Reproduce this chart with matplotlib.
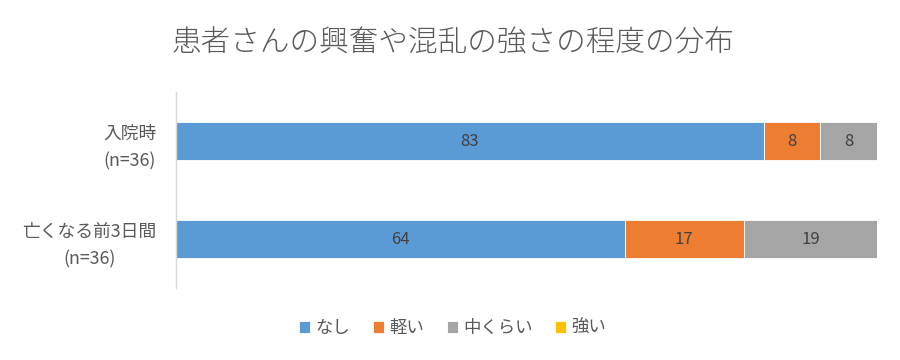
import numpy as np
import matplotlib
matplotlib.use('Agg')
import matplotlib.pyplot as plt

plt.rcParams['font.family'] = ['Noto Sans CJK JP', 'DejaVu Sans']

title = '患者さんの興奮や混乱の強さの程度の分布'
categories = ['入院時\n(n=36)', '亡くなる前3日間\n(n=36)']
series = ['なし', '軽い', '中くらい', '強い']
values = np.array([
    [83, 8, 8, 0],
    [64, 17, 19, 0],
])
colors = ['#5B9BD5', '#ED7D31', '#A5A5A5', '#FFC000']

# 100% stacked, like the Excel chart
shares = values / values.sum(axis=1, keepdims=True)

fig = plt.figure(figsize=(9, 3.6), dpi=100)
ax = fig.add_axes([0.1956, 0.2, 0.7788, 0.544])

y = np.arange(len(categories))
left = np.zeros(len(categories))
for j, name in enumerate(series):
    bars = ax.barh(y, shares[:, j], left=left, height=0.39, color=colors[j],
                   edgecolor='white', linewidth=0.6, label=name)
    for i, b in enumerate(bars):
        if values[i, j] > 0:
            ax.text(left[i] + shares[i, j] / 2, y[i], str(values[i, j]),
                    ha='center', va='center', fontsize=12, color='#404040')
    left += shares[:, j]

ax.set_xlim(0, 1)
ax.set_ylim(1.5, -0.5)
ax.set_yticks(y)
ax.set_yticklabels(categories, fontsize=12.8, color='#595959', linespacing=1.65)
for lab in ax.get_yticklabels():
    lab.set_multialignment('center')
ax.set_xticks([])
ax.tick_params(axis='y', length=0, pad=14)
for s in ['top', 'right', 'bottom']:
    ax.spines[s].set_visible(False)
ax.spines['left'].set_color('#D9D9D9')
ax.spines['left'].set_linewidth(1)

fig.text(0.503, 0.88, title, ha='center', va='center', fontsize=21.3,
         color='#595959', fontweight='light')

fig.legend(loc='center', bbox_to_anchor=(0.503, 0.088), ncol=4, frameon=False,
           fontsize=12.5, handlelength=0.65, handleheight=0.65, handletextpad=0.3,
           columnspacing=1.3, labelcolor='#595959')

fig.savefig('out.png', dpi=100)
